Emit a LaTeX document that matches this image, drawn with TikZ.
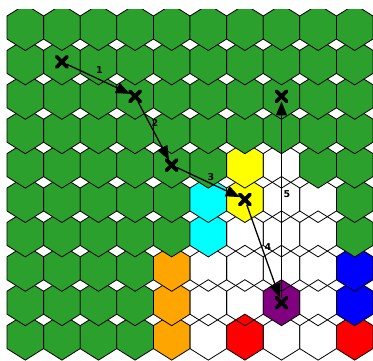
\documentclass[tikz,border=0pt]{standalone}
\usepackage{fontspec}
\setmainfont{DejaVu Sans}
\usetikzlibrary{arrows.meta,shapes.misc}

\definecolor{hexgreen}{HTML}{2CA02C}
\definecolor{hexyellow}{HTML}{FFFF00}
\definecolor{hexcyan}{HTML}{00FFFF}
\definecolor{hexorange}{HTML}{FFA500}
\definecolor{hexblue}{HTML}{0000FF}
\definecolor{hexred}{HTML}{FF0000}
\definecolor{hexpurple}{HTML}{800080}

\tikzset{
  hexline/.style={draw=black, line width=0.8pt, line join=miter},
  cellG/.style={fill=hexgreen},
  cellY/.style={fill=hexyellow},
  cellC/.style={fill=hexcyan},
  cellO/.style={fill=hexorange},
  cellB/.style={fill=hexblue},
  cellR/.style={fill=hexred},
  cellP/.style={fill=hexpurple},
  cellW/.style={},
  xmark/.style={cross out, draw=black, line width=3.8pt, line cap=round, minimum size=6.5pt, inner sep=0pt},
  route/.style={draw=black, line width=1.3pt, -{Triangle[length=14pt,width=11pt]}},
  steplabel/.style={font=\fontsize{9.5}{11}\selectfont\bfseries, inner sep=0pt}
}

\begin{document}
\begin{tikzpicture}[x=1pt,y=-1pt]
\useasboundingbox (0,0) rectangle (373,360);

% hexagonal board, drawn from the bottom row upwards
\begin{scope}
\clip (0,9) rectangle (373,361);
\foreach \r/\cols in {
  9/{G,G,G,G,O,W,R,W,W,R},
  8/{G,G,G,G,O,W,W,P,W,B},
  7/{G,G,G,G,O,W,W,W,W,B},
  6/{G,G,G,G,G,C,W,W,W,G},
  5/{G,G,G,G,G,C,Y,W,W,G},
  4/{G,G,G,G,G,G,Y,W,G,G},
  3/{G,G,G,G,G,G,G,G,G,G},
  2/{G,G,G,G,G,G,G,G,G,G},
  1/{G,G,G,G,G,G,G,G,G,G},
  0/{G,G,G,G,G,G,G,G,G,G}} {
  \foreach \cl [count=\c from 0] in \cols {
    \pgfmathsetmacro\cx{25.3+36.6*\c}
    \pgfmathsetmacro\cy{27.5+34.4*\r}
    \path[hexline, cell\cl]
      (\cx,\cy-23) -- (\cx+18.3,\cy-11.5) -- (\cx+18.3,\cy+11.5) --
      (\cx,\cy+23) -- (\cx-18.3,\cy+11.5) -- (\cx-18.3,\cy-11.5) -- cycle;
  }
}
\end{scope}

% waypoints
\node[xmark] (m1) at (61.9,61.9) {};
\node[xmark] (m2) at (135.1,96.3) {};
\node[xmark] (m3) at (171.7,165.1) {};
\node[xmark] (m4) at (244.9,199.5) {};
\node[xmark] (m5) at (281.5,96.3) {};
\node[xmark] (m6) at (281.5,302.7) {};

% numbered route
\draw[route] (m1) -- (m2) node[steplabel, midway, xshift=1pt, yshift=9pt] {1};
\draw[route] (m2) -- (m3) node[steplabel, midway, xshift=1.6pt, yshift=8pt] {2};
\draw[route] (m3) -- (m4) node[steplabel, midway, xshift=2.7pt, yshift=5.3pt] {3};
\draw[route] (m4) -- (m6) node[steplabel, midway, xshift=4.8pt, yshift=4.1pt] {4};
\draw[route] (m6) -- (m5) node[steplabel, midway, xshift=5.5pt, yshift=5.4pt] {5};
\end{tikzpicture}
\end{document}
